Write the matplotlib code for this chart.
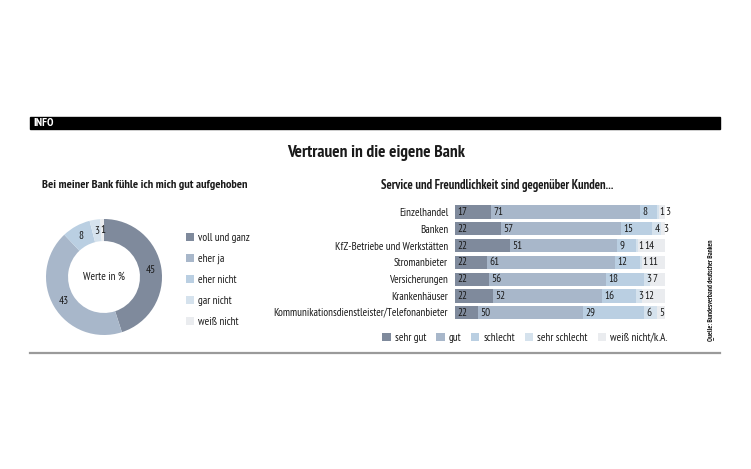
import matplotlib
matplotlib.use("Agg")
import numpy as np
import matplotlib.pyplot as plt
from matplotlib import font_manager
from matplotlib.patches import Rectangle

# condensed font, close to the original
names = set(f.name for f in font_manager.fontManager.ttflist)
narrow = "PT Sans Narrow" if "PT Sans Narrow" in names else "Roboto Condensed"
plt.rcParams["font.family"] = [narrow, "DejaVu Sans"]

W, H = 751, 469

# donut data
donut_labels = ["voll und ganz", "eher ja", "eher nicht", "gar nicht", "weiß nicht"]
donut_values = [45, 43, 8, 3, 1]

# bar data
categories = ["Einzelhandel", "Banken", "KfZ-Betriebe und Werkstätten", "Stromanbieter",
              "Versicherungen", "Krankenhäuser", "Kommunikationsdienstleister/Telefonanbieter"]
series_names = ["sehr gut", "gut", "schlecht", "sehr schlecht", "weiß nicht/k.A."]
sehr_gut = [17, 22, 26, 15, 16, 18, 11]
sehr_gut_labels = ["17", "22", "22", "22", "22", "22", "22"]  # printed as in the source
gut = [71, 57, 51, 61, 56, 52, 50]
schlecht = [8, 15, 9, 12, 18, 16, 29]
sehr_schlecht = [1, 4, 1, 1, 3, 3, 6]
weiss_nicht = [3, 3, 14, 11, 7, 12, 5]

colors = ["#7f8a9c", "#a8b7ca", "#bacfe2", "#d5e2ed", "#eaecef"]
text_col = "#1a1a1a"


def px(x, y):
    return x / W, 1 - y / H


fig = plt.figure(figsize=(7.51, 4.69), dpi=100)

# header bar
fig.patches.append(Rectangle(px(30, 129), 690 / W, 12 / H, transform=fig.transFigure,
                             color="black", zorder=0))
fig.text(*px(33, 123), "INFO", color="white", fontsize=8.5, fontweight="bold", va="center")
fig.text(*px(376, 153), "Vertrauen in die eigene Bank", fontsize=12.5, fontweight="bold",
         ha="center", va="center", color=text_col)
fig.text(*px(42, 185), "Bei meiner Bank fühle ich mich gut aufgehoben", fontsize=8.8,
         fontweight="bold", va="center", color=text_col)
fig.text(*px(381, 185), "Service und Freundlichkeit sind gegenüber Kunden...", fontsize=9,
         fontweight="bold", va="center", color=text_col)

# bottom line
fig.add_artist(plt.Line2D([30 / W, 720 / W], [1 - 353 / H] * 2, color="#9a9a9a", lw=1.6))

# source
fig.text(*px(711, 290), "Quelle: Bundesverband deutscher Banken", fontsize=5,
         fontweight="bold", rotation=90, ha="center", va="center", color=text_col)

# donut
r = 58
cx, cy = 104, 277
ax_d = fig.add_axes([(cx - r) / W, 1 - (cy + r) / H, 2 * r / W, 2 * r / H])
wedges, _ = ax_d.pie(donut_values, colors=colors, startangle=90, counterclock=False,
                     radius=1, wedgeprops=dict(width=0.38, linewidth=0))
for w, v in zip(wedges, donut_values):
    ang = np.deg2rad((w.theta1 + w.theta2) / 2)
    ax_d.text(0.81 * np.cos(ang), 0.81 * np.sin(ang), str(v), ha="center", va="center",
              fontsize=8, color=text_col)
ax_d.text(0, 0, "Werte in %", ha="center", va="center", fontsize=8, color=text_col)
ax_d.set_xlim(-1, 1)
ax_d.set_ylim(-1, 1)
ax_d.axis("off")

fig.legend(wedges, donut_labels, loc="upper left", bbox_to_anchor=px(176, 223),
           frameon=False, fontsize=8, handlelength=0.75, handleheight=0.75,
           handletextpad=0.35, labelspacing=0.98, labelcolor=text_col)

# stacked bars
row0, row_step = 212, 16.8
n = len(categories)
top = row0 - row_step / 2
bottom = row0 + row_step * (n - 0.5)
ax = fig.add_axes([455 / W, 1 - bottom / H, 210 / W, (bottom - top) / H])
series = [sehr_gut, gut, schlecht, sehr_schlecht, weiss_nicht]
ypos = list(range(n))
left = [0] * n
bars = []
for vals, col, name in zip(series, colors, series_names):
    b = ax.barh(ypos, vals, left=left, height=0.78, color=col, label=name, linewidth=0)
    bars.append(b)
    left = [l + v for l, v in zip(left, vals)]

# value labels, left aligned in each segment
for i in range(n):
    start = 0
    last_x = -10
    last_w = 0
    for k, vals in enumerate(series):
        lab = sehr_gut_labels[i] if k == 0 else str(vals[i])
        x = max(start + 1.2, last_x + last_w)
        ax.text(x, i, lab, ha="left", va="center", fontsize=8, color=text_col)
        last_x = x
        last_w = 1.9 * len(lab) + 1.0
        start += vals[i]

ax.set_xlim(0, 100)
ax.set_ylim(n - 0.5, -0.5)
ax.set_yticks(ypos)
ax.set_yticklabels(categories, fontsize=7.9, color=text_col)
ax.tick_params(axis="y", length=0, pad=5)
ax.set_xticks([])
for s in ax.spines.values():
    s.set_visible(False)

fig.legend(bars, series_names, loc="center", bbox_to_anchor=px(525, 338), ncol=5,
           frameon=False, fontsize=8, handlelength=0.75, handleheight=0.75,
           handletextpad=0.35, columnspacing=0.9, labelcolor=text_col)

fig.savefig("out.png", dpi=100)
